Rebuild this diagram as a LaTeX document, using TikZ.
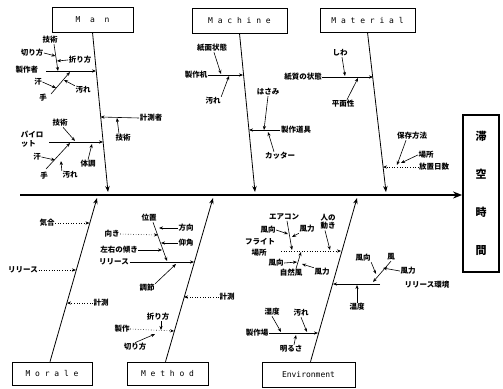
\documentclass[tikz,border=0pt]{standalone}
\usepackage{fontspec}
\newfontfamily\cjk{Noto Sans CJK JP}
\newfontfamily\latn{DejaVu Sans Mono}
\usetikzlibrary{arrows.meta}
\tikzset{
  lbl/.style={font=\cjk\bfseries\fontsize{7.5}{8.5}\selectfont, inner sep=0.5pt, align=left},
  catbox/.style={draw, line width=0.6pt, font=\latn\fontsize{8}{9}\selectfont, inner sep=0pt},
  titlebox/.style={draw, line width=1.8pt, minimum width=36pt, minimum height=157pt, align=center, font=\cjk\bfseries\fontsize{11}{38}\selectfont},
  spine/.style={line width=2pt, -{Stealth[length=9pt,width=7pt]}},
  bone/.style={line width=0.8pt, -{Stealth[length=6pt,width=4.5pt]}},
  sub/.style={line width=0.6pt, -{Stealth[length=4pt,width=3.2pt]}},
  dsub/.style={sub, dotted},
  plain/.style={line width=0.6pt}
}
\begin{document}
\begin{tikzpicture}[x=1pt,y=-1pt]
\useasboundingbox (0,0) rectangle (503,388);
% category boxes
\node[catbox, minimum width=81pt, minimum height=25pt] (man) at (92.5,19.5) {M\ \ a\ \ n};
\node[catbox, minimum width=95pt, minimum height=25pt] (mach) at (239.5,20.5) {M a c h i n e};
\node[catbox, minimum width=95pt, minimum height=24pt] (mat) at (367.5,20) {M a t e r i a l};
\node[catbox, minimum width=80pt, minimum height=23pt] (mor) at (52,373.5) {M o r a l e};
\node[catbox, minimum width=81pt, minimum height=23pt] (meth) at (167.5,373.5) {M e t h o d};
\node[catbox, minimum width=93pt, minimum height=25pt] (env) at (308.5,374.5) {Environment};
\node[titlebox] (goal) at (481,193.5) {滞\\空\\時\\間};
% spine
\coordinate (sp0) at (20,195);
\draw[spine] (sp0) -- (goal.west |- sp0);
% bone ends
\coordinate (manE) at (108,192);
\coordinate (machE) at (255,192);
\coordinate (matE) at (386,192);
\coordinate (morE) at (97,198);
\coordinate (methE) at (213,198);
\coordinate (envE) at (357,198);
\draw[bone] (man.south) -- (manE);
\draw[bone] (mach.south) -- (machE);
\draw[bone] (mat.south) -- (matE);
\draw[bone] ([xshift=-2pt]mor.north) -- (morE);
\draw[bone] ([xshift=-2pt]meth.north) -- (methE);
\draw[bone] ([xshift=2pt]env.north) -- (envE);

% ===== Man =====
\node[lbl] (m1) at (27,70) {製作者};
\coordinate (m1s) at (46,71); \coordinate (m1e) at (96,71);
\draw[sub] (m1s) -- (m1e);
\node[lbl] (m2) at (50,40) {技術};
\coordinate (m2e) at (58,71);
\draw[sub] ([xshift=4pt]m2.south) -- (m2e);
\node[lbl] (m3) at (32,53) {切り方};
\coordinate (m3e) at (55.5,56); \draw[sub] (m3.east) -- (m3e);
\node[lbl] (m4) at (80,60) {折り方};
\coordinate (m4e) at (57,61); \draw[sub] (m4.west) -- (m4e);
\coordinate (m5s) at (51,94); \coordinate (m5e) at (70,72);
\draw[sub] (m5s) -- (m5e);
\node[lbl] (m6) at (38,82) {汗};
\coordinate (m6e) at (56,88); \draw[sub] (m6.east) -- (m6e);
\node[lbl] (m7) at (43,98) {手};
\node[lbl] (m8) at (83,90) {汚れ};
\coordinate (m8e) at (64,80); \draw[sub] (m8.north west) -- (m8e);
\node[lbl] (m9) at (151,118) {計測者};
\coordinate (m9e) at (100.5,117); \draw[sub] (m9.west) -- (m9e);
\node[lbl] (m10) at (123,138) {技術};
\coordinate (m10e) at (117,118); \draw[sub] ([xshift=-4pt]m10.north) -- (m10e);
\node[lbl] (m11) at (32,139) {パイロ\\ット};
\coordinate (m12s) at (49,142); \coordinate (m12e) at (103,142);
\draw[sub] (m12s) -- (m12e);
\node[lbl] (m13) at (60,123) {技術};
\coordinate (m13e) at (75,141); \draw[sub] ([xshift=3pt]m13.south) -- (m13e);
\coordinate (m14s) at (46,169); \coordinate (m14e) at (70,143);
\draw[sub] (m14s) -- (m14e);
\node[lbl] (m15) at (37,157) {汗};
\coordinate (m15e) at (55,160); \draw[sub] (m15.east) -- (m15e);
\node[lbl] (m16) at (44,176) {手};
\node[lbl] (m17) at (70,175) {汚れ};
\coordinate (m17e) at (61,161); \draw[sub] (m17.north west) -- (m17e);
\node[lbl] (m18) at (88,164) {体調};
\coordinate (m18e) at (92,144); \draw[sub] (m18.north) -- (m18e);

% ===== Machine =====
\node[lbl] (c1) at (212,48) {紙面状態};
\coordinate (c1e) at (221,74); \draw[sub] ([xshift=2pt]c1.south) -- (c1e);
\node[lbl] (c2) at (196,75) {製作机};
\coordinate (c2e) at (243,75); \draw[sub] (c2.east) -- (c2e);
\node[lbl] (c3) at (213,101) {汚れ};
\coordinate (c3e) at (229,76); \draw[sub] (c3.north east) -- (c3e);
\node[lbl] (c4) at (268,92) {はさみ};
\coordinate (c4e) at (264,130); \draw[sub] (c4.south) -- (c4e);
\node[lbl] (c5) at (296,130) {製作道具};
\coordinate (c5e) at (249,130); \draw[sub] (c5.west) -- (c5e);
\node[lbl] (c6) at (280,156) {カッター};
\coordinate (c6e) at (268,132); \draw[sub] ([xshift=-6pt]c6.north) -- (c6e);

% ===== Material =====
\node[lbl] (t1) at (303,77) {紙質の状態};
\coordinate (t1e) at (373,77); \draw[sub] (t1.east) -- (t1e);
\node[lbl] (t2) at (340,53) {しわ};
\coordinate (t2e) at (345,76); \draw[sub] ([xshift=2pt]t2.south) -- (t2e);
\node[lbl] (t3) at (343,104) {平面性};
\coordinate (t3e) at (358,78); \draw[sub] ([xshift=4pt]t3.north) -- (t3e);
\node[lbl] (t4) at (412,136) {保存方法};
\node[lbl] (t5) at (426,155) {場所};
\node[lbl] (t6) at (434,167) {放置日数};
\coordinate (t6e) at (383,167); \draw[dsub] (t6.west) -- (t6e);
\coordinate (t4e) at (397,165); \draw[sub] ([xshift=-6pt]t4.south) -- (t4e);
\coordinate (t5e) at (401,163); \draw[sub] (t5.west) -- (t5e);

% ===== Morale =====
\node[lbl] (o1) at (47,223) {気合};
\coordinate (o1e) at (89.5,223); \draw[dsub] (o1.east) -- (o1e);
\node[lbl] (o2) at (23,270) {リリース};
\coordinate (o2e) at (76,270); \draw[dsub] (o2.east) -- (o2e);
\node[lbl] (o3) at (101,303) {計測};
\coordinate (o3e) at (67,303); \draw[dsub] (o3.west) -- (o3e);

% ===== Method =====
\node[lbl] (e1) at (149,218) {位置};
\coordinate (e1e) at (167,261); \draw[sub] ([xshift=4pt]e1.south) -- (e1e);
\node[lbl] (e2) at (186,228) {方向};
\coordinate (e2e) at (159,228); \draw[sub] (e2.west) -- (e2e);
\node[lbl] (e3) at (112,234) {向き};
\coordinate (e3e) at (158,235); \draw[dsub] (e3.east) -- (e3e);
\node[lbl] (e4) at (186,243) {仰角};
\coordinate (e4e) at (161,243); \draw[sub] (e4.west) -- (e4e);
\node[lbl] (e5) at (119,250) {左右の傾き};
\coordinate (e5e) at (162,250); \draw[sub] (e5.east) -- (e5e);
\node[lbl] (e6) at (114,262) {リリース};
\coordinate (e6e) at (194,262); \draw[sub] (e6.east) -- (e6e);
\node[lbl] (e7) at (147,288) {調節};
\coordinate (e7e) at (176,264); \draw[sub] (e7.north east) -- (e7e);
\node[lbl] (e8) at (227,297) {計測};
\coordinate (e8e) at (184,297); \draw[dsub] (e8.west) -- (e8e);
\node[lbl] (e9) at (158,317) {折り方};
\coordinate (e9e) at (161,330); \draw[sub] ([xshift=3pt]e9.south) -- (e9e);
\node[lbl] (e10) at (122,329) {製作};
\coordinate (e10e) at (174,331); \draw[dsub] (e10.east) -- (e10e);
\node[lbl] (e11) at (135,347) {切り方};
\coordinate (e11e) at (155,334); \draw[sub] (e11.north) -- (e11e);

% ===== Environment =====
\node[lbl] (v1) at (284,217) {エアコン};
\node[lbl] (v2) at (268,230) {風向};
\node[lbl] (v3) at (307,229) {風力};
\node[lbl] (v4) at (328,222) {人の\\動き};
\node[lbl] (v5) at (260,242) {フライト};
\node[lbl] (v6) at (259,253) {場所};
\coordinate (v5s) at (281,251); \coordinate (v5e) at (341,251);
\draw[dsub] (v5s) -- (v5e);
\coordinate (v1e) at (292,250); \draw[sub] ([xshift=3pt]v1.south) -- (v1e);
\coordinate (v2e) at (288,234); \draw[sub] (v2.east) -- (v2e);
\coordinate (v3e) at (292,237); \draw[sub] (v3.south west) -- (v3e);
\coordinate (v4e) at (330,250); \draw[sub] ([xshift=-3pt]v4.south) -- (v4e);
\node[lbl] (v7) at (276,263) {風向};
\node[lbl] (v8) at (291,273) {自然風};
\node[lbl] (v9) at (322,272) {風力};
\coordinate (v8e) at (301,252); \draw[sub] ([xshift=5pt]v8.north) -- (v8e);
\coordinate (v7e) at (297,262); \draw[sub] (v7.east) -- (v7e);
\coordinate (v9e) at (302,264); \draw[sub] (v9.north west) -- (v9e);
\node[lbl] (v10) at (363,258) {風向};
\node[lbl] (v11) at (391,257) {風};
\node[lbl] (v12) at (408,271) {風力};
\coordinate (v11e) at (373,282); \draw[sub] (v11.south) -- (v11e);
\coordinate (v10e) at (376,274); \draw[sub] (v10.south east) -- (v10e);
\coordinate (v12e) at (383,268); \draw[sub] (v12.west) -- (v12e);
\node[lbl] (v13) at (427,285) {リリース環境};
\coordinate (v13s) at (380,284); \coordinate (v13e) at (333,284);
\draw[sub] (v13s) -- (v13e);
\node[lbl] (v14) at (357,307) {温度};
\coordinate (v14e) at (357,285); \draw[sub] (v14.north) -- (v14e);
\node[lbl] (v15) at (272,312) {湿度};
\coordinate (v15e) at (281,332); \draw[sub] (v15.south) -- (v15e);
\node[lbl] (v16) at (301,313) {汚れ};
\coordinate (v16e) at (307,332); \draw[sub] (v16.south) -- (v16e);
\node[lbl] (v17) at (257,333) {製作場};
\coordinate (v17e) at (318,333); \draw[sub] (v17.east) -- (v17e);
\node[lbl] (v18) at (291,349) {明るさ};
\coordinate (v18e) at (296,335); \draw[sub] ([xshift=3pt]v18.north) -- (v18e);
\end{tikzpicture}
\end{document}
